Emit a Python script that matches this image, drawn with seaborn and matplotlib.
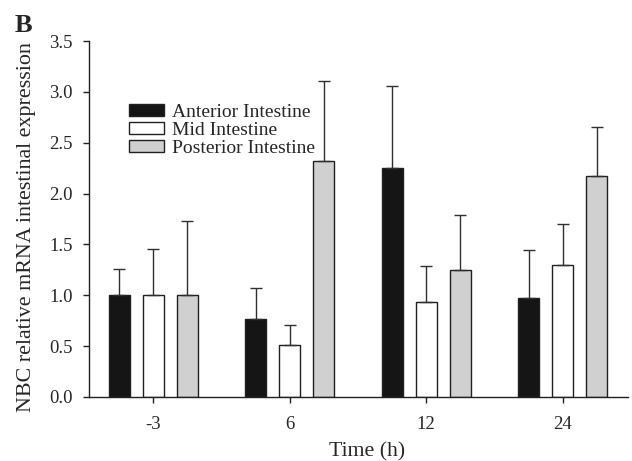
import matplotlib
matplotlib.use("Agg")
import matplotlib.pyplot as plt
import seaborn as sns
import pandas as pd
import numpy as np
from matplotlib.patches import Patch

times = ["-3", "6", "12", "24"]
series = ["Anterior Intestine", "Mid Intestine", "Posterior Intestine"]
anterior = [1.00, 0.77, 2.25, 0.97]
mid = [1.00, 0.51, 0.93, 1.30]
posterior = [1.00, 2.32, 1.25, 2.17]
anterior_err = [0.26, 0.30, 0.81, 0.47]
mid_err = [0.45, 0.20, 0.36, 0.40]
posterior_err = [0.73, 0.79, 0.54, 0.48]
colors = ["#151515", "#ffffff", "#d0d0d0"]

sns.set_style("ticks")
plt.rcParams["font.family"] = ["Liberation Serif", "DejaVu Serif"]

rows = []
for s, vals, errs in zip(series, [anterior, mid, posterior], [anterior_err, mid_err, posterior_err]):
    for t, v, e in zip(times, vals, errs):
        rows.append({"Time": t, "Series": s, "Value": v, "Err": e})
df = pd.DataFrame(rows)

fig = plt.figure(figsize=(6.32, 4.61), dpi=100)
ax = fig.add_axes([0.141, 0.139, 0.853, 0.772])

sns.barplot(data=df, x="Time", y="Value", hue="Series", order=times, hue_order=series,
            palette=colors, width=0.75, gap=0.385, edgecolor="#202020", linewidth=1.0,
            errorbar=None, legend=False, ax=ax)

for cont, s in zip(ax.containers, series):
    sub = df[df["Series"] == s].set_index("Time").loc[times]
    xs = [b.get_x() + b.get_width() / 2 for b in cont]
    ax.errorbar(xs, sub["Value"].values, yerr=[np.zeros(len(xs)), sub["Err"].values],
                fmt="none", ecolor="#303030", elinewidth=1.0, capsize=4.5, capthick=1.0, zorder=1)

ax.set_ylim(0, 3.5)
ax.set_xlim(-0.47, 3.48)
ax.set_yticks(np.arange(0, 3.51, 0.5))
ax.set_yticklabels([f"{v:.1f}" for v in np.arange(0, 3.51, 0.5)])
ax.tick_params(axis="both", direction="out", length=4.3, width=1, labelsize=13.5, color="#202020")
ax.tick_params(axis="y", pad=7.5)
ax.tick_params(axis="x", pad=9.5)
for sp in ["top", "right"]:
    ax.spines[sp].set_visible(False)
for sp in ["left", "bottom"]:
    ax.spines[sp].set_color("#202020")
    ax.spines[sp].set_linewidth(1.0)

ax.set_xlabel("Time (h)", fontsize=15.7)
ax.xaxis.set_label_coords(0.515, -0.128)
ax.set_ylabel("NBC relative mRNA intestinal expression", fontsize=15.8)
ax.yaxis.set_label_coords(-0.098, 0.478)

handles = [Patch(facecolor=c, edgecolor="#202020", linewidth=1.0) for c in colors]
ax.legend(handles, series, loc="upper left", bbox_to_anchor=(0.074, 0.823), frameon=False,
          fontsize=14, handlelength=1.8, handleheight=0.55, handletextpad=0.4,
          labelspacing=0.05, borderpad=0, borderaxespad=0)

fig.text(15 / 632, 1 - 32 / 461, "B", fontsize=19, fontweight="bold", va="baseline", ha="left")

fig.savefig("out.png", dpi=100)
